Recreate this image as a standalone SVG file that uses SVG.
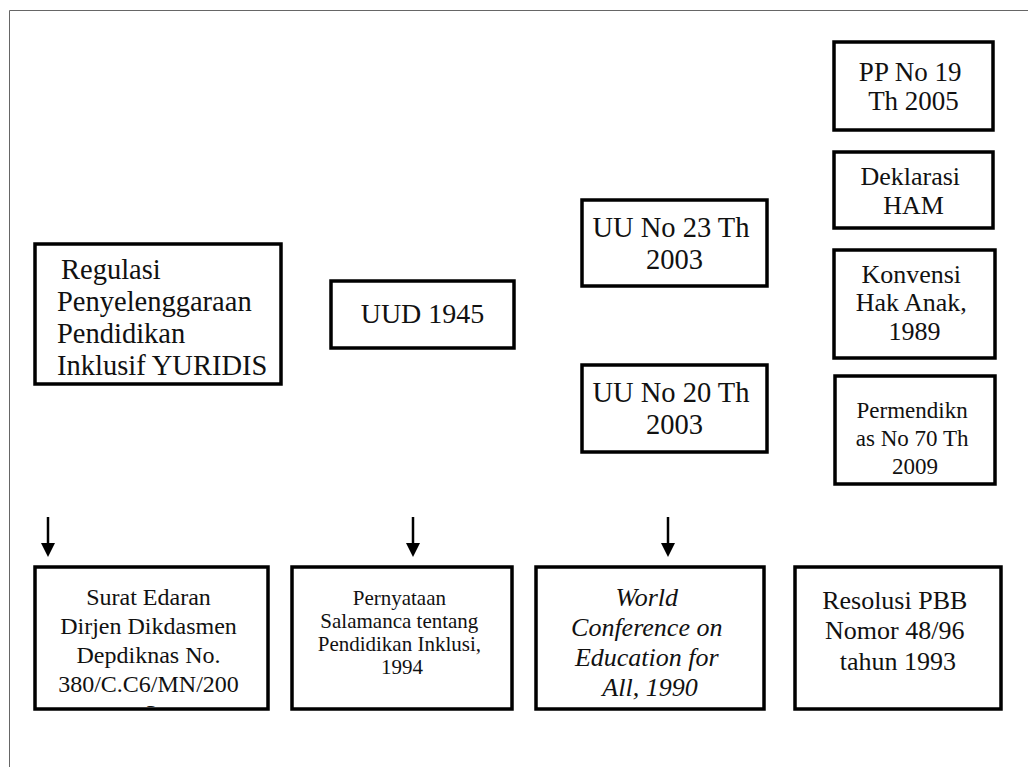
<svg xmlns="http://www.w3.org/2000/svg" width="1028" height="767" viewBox="0 0 1028 767">
  <style>
    .box { fill: #ffffff; stroke: #000000; stroke-width: 3.5; }
    .t { font-family: 'Liberation Serif', 'DejaVu Serif', serif; fill: #111111; }
    .c { text-anchor: middle; }
    .i { font-style: italic; }
    .arrow { stroke: #000000; stroke-width: 2.5; fill: none; }
  </style>
  <defs>
    <clipPath id="clipSurat">
      <rect x="37" y="569" width="229" height="138"/>
    </clipPath>
  </defs>

  <rect width="1028" height="767" fill="#ffffff"/>
  <!-- page frame (top and left edges) -->
  <path d="M9.5,767 V10.5 H1028" fill="none" stroke="#666666" stroke-width="1"/>

  <g id="regulasi">
    <rect class="box" x="35" y="244" width="246" height="140"/>
    <text class="t" font-size="28.5">
      <tspan x="61" y="279">Regulasi</tspan>
      <tspan x="57" y="311">Penyelenggaraan</tspan>
      <tspan x="57" y="343">Pendidikan</tspan>
      <tspan x="57" y="375">Inklusif  YURIDIS</tspan>
    </text>
  </g>

  <g id="uud1945">
    <rect class="box" x="331" y="281" width="183" height="67"/>
    <text class="t c" font-size="28" x="422.5" y="323">UUD 1945</text>
  </g>

  <g id="uu23">
    <rect class="box" x="582" y="200" width="185" height="86"/>
    <text class="t c" font-size="28.5">
      <tspan x="674.5" y="237">UU No 23 Th</tspan>
      <tspan x="674.5" y="269">2003</tspan>
    </text>
  </g>

  <g id="uu20">
    <rect class="box" x="582" y="365" width="185" height="87"/>
    <text class="t c" font-size="28.5">
      <tspan x="674.5" y="402">UU No 20 Th</tspan>
      <tspan x="674.5" y="434">2003</tspan>
    </text>
  </g>

  <g id="pp19">
    <rect class="box" x="834" y="42" width="159" height="88"/>
    <text class="t c" font-size="27">
      <tspan x="913.5" y="81">PP No 19</tspan>
      <tspan x="913.5" y="110">Th 2005</tspan>
    </text>
  </g>

  <g id="deklarasi">
    <rect class="box" x="834" y="152" width="159" height="76"/>
    <text class="t c" font-size="26">
      <tspan x="913.5" y="185">Deklarasi</tspan>
      <tspan x="913.5" y="214">HAM</tspan>
    </text>
  </g>

  <g id="konvensi">
    <rect class="box" x="834" y="250" width="161" height="108"/>
    <text class="t c" font-size="26">
      <tspan x="914.5" y="283">Konvensi</tspan>
      <tspan x="914.5" y="311">Hak Anak,</tspan>
      <tspan x="914.5" y="340">1989</tspan>
    </text>
  </g>

  <g id="permendiknas">
    <rect class="box" x="835" y="376" width="160" height="108"/>
    <text class="t c" font-size="23">
      <tspan x="915" y="418">Permendikn</tspan>
      <tspan x="915" y="446">as No 70 Th</tspan>
      <tspan x="915" y="474">2009</tspan>
    </text>
  </g>

  <g id="surat-edaran">
    <rect class="box" x="35" y="567" width="233" height="142"/>
    <text class="t c" font-size="24" clip-path="url(#clipSurat)">
      <tspan x="151.5" y="605">Surat Edaran</tspan>
      <tspan x="151.5" y="634">Dirjen Dikdasmen</tspan>
      <tspan x="151.5" y="663">Depdiknas No.</tspan>
      <tspan x="151.5" y="692">380/C.C6/MN/200</tspan>
      <tspan x="151.5" y="721">3</tspan>
    </text>
  </g>

  <g id="salamanca">
    <rect class="box" x="292" y="567" width="220" height="142"/>
    <text class="t c" font-size="21">
      <tspan x="402" y="605">Pernyataan</tspan>
      <tspan x="402" y="628">Salamanca tentang</tspan>
      <tspan x="402" y="651">Pendidikan Inklusi,</tspan>
      <tspan x="402" y="674">1994</tspan>
    </text>
  </g>

  <g id="world-conference">
    <rect class="box" x="536" y="567" width="228" height="142"/>
    <text class="t c i" font-size="26">
      <tspan x="650" y="606">World</tspan>
      <tspan x="650" y="636">Conference on</tspan>
      <tspan x="650" y="666">Education for</tspan>
      <tspan x="650" y="696">All, 1990</tspan>
    </text>
  </g>

  <g id="resolusi-pbb">
    <rect class="box" x="795" y="567" width="206" height="142"/>
    <text class="t c" font-size="26">
      <tspan x="898" y="609">Resolusi PBB</tspan>
      <tspan x="898" y="639">Nomor 48/96</tspan>
      <tspan x="898" y="670">tahun 1993</tspan>
    </text>
  </g>

  <g id="connectors">
    <line class="arrow" x1="48" y1="517" x2="48" y2="545"/>
    <path d="M41,543 L55,543 L48,557 Z" fill="#000000"/>
    <line class="arrow" x1="413" y1="517" x2="413" y2="545"/>
    <path d="M406,543 L420,543 L413,557 Z" fill="#000000"/>
    <line class="arrow" x1="668" y1="517" x2="668" y2="545"/>
    <path d="M661,543 L675,543 L668,557 Z" fill="#000000"/>
  </g>
</svg>
